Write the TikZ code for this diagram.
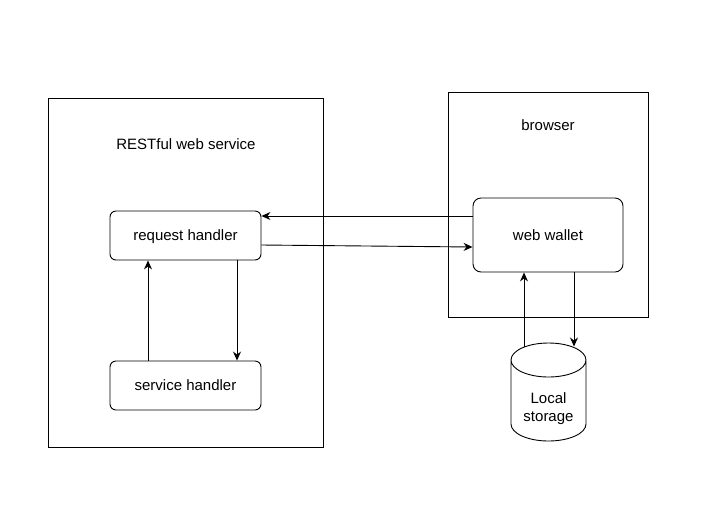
\documentclass[tikz,border=0pt]{standalone}
\usepackage{fontspec}
\setmainfont{Liberation Sans}
\usetikzlibrary{arrows.meta,calc}
\begin{document}
\begin{tikzpicture}[x=1pt,y=-1pt,
  line width=0.9pt,
  frame/.style={draw, rectangle, inner sep=0pt},
  rbox/.style={draw, rectangle, rounded corners=6pt, minimum width=151pt, minimum height=49pt, text depth=0pt, font=\fontsize{15}{18}\selectfont},
  lbl/.style={font=\fontsize{15}{18}\selectfont},
  conn/.style={-{Stealth[length=9pt,width=8pt,inset=3pt]}}]
\useasboundingbox (0,0) rectangle (711,528);
\node[frame, minimum width=275pt, minimum height=349pt] (rest) at (185.5,272.5) {};
\node[frame, minimum width=200pt, minimum height=225pt] (browser) at (548,204.5) {};
\node[lbl] (resttitle) at (186,144) {RESTful web service};
\node[lbl] (browsertitle) at (548,125) {browser};
\node[rbox] (req) at (185.5,235.5) {request handler};
\node[rbox] (svc) at (185.5,385.5) {service handler};
\node[rbox, minimum width=150pt, minimum height=74pt, rounded corners=8pt] (wallet) at (548,235) {web wallet};
% cylinder
\draw (511,360) -- (511,424) arc[start angle=180, end angle=0, x radius=37.5, y radius=17]
  -- (586,360) arc[start angle=0, end angle=-180, x radius=37.5, y radius=17]
  arc[start angle=180, end angle=0, x radius=37.5, y radius=17];
\node[lbl, align=center, inner sep=0pt] (store) at (548.5,408.5) {Local\\storage};
\coordinate (cylA) at (524,346.5);
\coordinate (cylB) at (574,346.5);
% connectors
\draw[conn] (wallet.west |- 0,216) -- (req.east |- 0,216);
\draw[conn] (req.east |- 0,245) -- (wallet.west |- 0,247);
\draw[conn] (req.south -| 237,0) -- (svc.north -| 237,0);
\draw[conn] (svc.north -| 148,0) -- (req.south -| 148,0);
\draw[conn] (wallet.south -| 574,0) -- (cylB);
\draw[conn] (cylA) -- (wallet.south -| 524,0);
\end{tikzpicture}
\end{document}
